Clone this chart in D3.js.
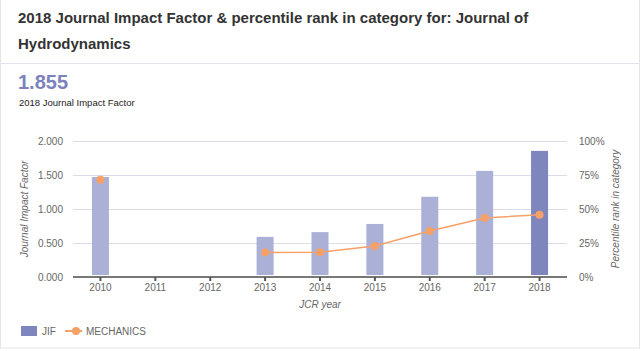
<!DOCTYPE html>
<html>
<head>
<meta charset="utf-8">
<script src="https://cdn.jsdelivr.net/npm/d3@7"></script>
<style>
  body { margin: 0; background: #fff; font-family: "Liberation Sans", Arial, sans-serif; }
  svg text { font-family: "Liberation Sans", Arial, sans-serif; }
</style>
</head>
<body>
<div id="chart"></div>
<script>
// chart data
const years = ["2010", "2011", "2012", "2013", "2014", "2015", "2016", "2017", "2018"];
const jif = [1.47, null, null, 0.59, 0.66, 0.78, 1.18, 1.56, 1.855];
const percentile = [71.5, null, null, 18.1, 18.2, 22.8, 33.8, 43.4, 45.8];
const jifTicks = [0, 0.5, 1, 1.5, 2];
const pctTicks = [0, 25, 50, 75, 100];

const width = 642, height = 351;
const margin = { left: 73, right: 75, top: 141, bottom: 74 };
const plotW = width - margin.left - margin.right;
const plotH = height - margin.top - margin.bottom;

const svg = d3.select("#chart").append("svg")
  .attr("width", width)
  .attr("height", height);

// card border + divider
svg.append("rect")
  .attr("x", 0.5).attr("y", -1)
  .attr("width", 639).attr("height", 349)
  .style("fill", "none").style("stroke", "#e4e4ea");
svg.append("line")
  .attr("x1", 0).attr("x2", 640).attr("y1", 63.5).attr("y2", 63.5)
  .style("stroke", "#e4e4ec");

// header
svg.append("text").attr("x", 18).attr("y", 23)
  .style("font-size", "15px").style("font-weight", "bold").style("fill", "#333")
  .text("2018 Journal Impact Factor & percentile rank in category for: Journal of");
svg.append("text").attr("x", 18).attr("y", 49)
  .style("font-size", "15px").style("font-weight", "bold").style("fill", "#333")
  .text("Hydrodynamics");
svg.append("text").attr("x", 18).attr("y", 89)
  .style("font-size", "20px").style("font-weight", "bold").style("fill", "#7c82bd")
  .text("1.855");
svg.append("text").attr("x", 19).attr("y", 106)
  .style("font-size", "9.5px").style("fill", "#222")
  .text("2018 Journal Impact Factor");

// scales
const xScale = d3.scaleBand().domain(years).range([0, plotW]);
const yScale = d3.scaleLinear().domain([0, 2]).range([plotH, 0]);
const pScale = d3.scaleLinear().domain([0, 100]).range([plotH, 0]);

const g = svg.append("g").attr("transform", `translate(${margin.left},${margin.top})`);

// grid
g.selectAll(".grid").data(jifTicks.slice(1)).join("line")
  .attr("x1", 0).attr("x2", plotW)
  .attr("y1", d => yScale(d) + 0.5).attr("y2", d => yScale(d) + 0.5)
  .style("stroke", "#dcdce8");

// left axis labels
g.selectAll(".ly").data(jifTicks).join("text")
  .attr("x", -10).attr("y", d => yScale(d) + 4)
  .attr("text-anchor", "end")
  .style("font-size", "10px").style("fill", "#666")
  .text(d => d3.format(".3f")(d));

// right axis labels
g.selectAll(".ry").data(pctTicks).join("text")
  .attr("x", plotW + 12).attr("y", d => pScale(d) + 4)
  .style("font-size", "10px").style("fill", "#666")
  .text(d => d + "%");

// bars
const barW = 17;
g.selectAll(".bar").data(years.map((y, i) => ({ y, v: jif[i], i })).filter(d => d.v != null))
  .join("rect")
  .attr("x", d => xScale(d.y) + xScale.bandwidth() / 2 - barW / 2)
  .attr("y", d => yScale(d.v))
  .attr("width", barW)
  .attr("height", d => yScale(0) - 2 - yScale(d.v))
  .style("fill", d => d.i === years.length - 1 ? "#7e86bd" : "#aab0d6");

// x axis
const xAxis = g.append("g").attr("transform", `translate(0,${plotH})`)
  .call(d3.axisBottom(xScale).tickSize(4).tickPadding(3));
xAxis.select(".domain").style("stroke", "#777").style("stroke-width", 2).attr("d", `M0,0H${plotW}`);
xAxis.selectAll(".tick line").style("stroke", "#555").style("stroke-width", 2);
xAxis.selectAll(".tick text").style("font-size", "10px").style("fill", "#666")
  .style("font-family", "Liberation Sans, Arial, sans-serif");

// percentile line
const pts = years.map((y, i) => ({ y, v: percentile[i] }));
const line = d3.line()
  .defined(d => d.v != null)
  .x(d => xScale(d.y) + xScale.bandwidth() / 2)
  .y(d => pScale(d.v));
g.append("path").datum(pts)
  .attr("d", line)
  .style("fill", "none").style("stroke", "#f7a068").style("stroke-width", 1.5);
g.selectAll(".dot").data(pts.filter(d => d.v != null)).join("circle")
  .attr("cx", d => xScale(d.y) + xScale.bandwidth() / 2)
  .attr("cy", d => pScale(d.v))
  .attr("r", 4)
  .style("fill", "#f7a068");

// axis titles
svg.append("text")
  .attr("transform", `translate(28,${margin.top + plotH / 2}) rotate(-90)`)
  .attr("text-anchor", "middle")
  .style("font-size", "10px").style("font-style", "italic").style("fill", "#666")
  .text("Journal Impact Factor");
svg.append("text")
  .attr("transform", `translate(619,${margin.top + plotH / 2}) rotate(-90)`)
  .attr("text-anchor", "middle")
  .style("font-size", "10px").style("font-style", "italic").style("fill", "#666")
  .text("Percentile rank in category");
svg.append("text")
  .attr("x", margin.left + plotW / 2).attr("y", 308)
  .attr("text-anchor", "middle")
  .style("font-size", "10px").style("font-style", "italic").style("fill", "#666")
  .text("JCR year");

// legend
const leg = svg.append("g").attr("transform", "translate(21,331)");
leg.append("rect").attr("x", 0).attr("y", -5).attr("width", 16).attr("height", 10).style("fill", "#7e86bd");
leg.append("text").attr("x", 21).attr("y", 4).style("font-size", "10px").style("fill", "#666").text("JIF");
leg.append("line").attr("x1", 44).attr("x2", 61).attr("y1", 0).attr("y2", 0)
  .style("stroke", "#f7a068").style("stroke-width", 2);
leg.append("circle").attr("cx", 55).attr("cy", 0).attr("r", 4).style("fill", "#f7a068");
leg.append("text").attr("x", 65).attr("y", 4).style("font-size", "10px").style("fill", "#666").text("MECHANICS");
</script>
</body>
</html>
